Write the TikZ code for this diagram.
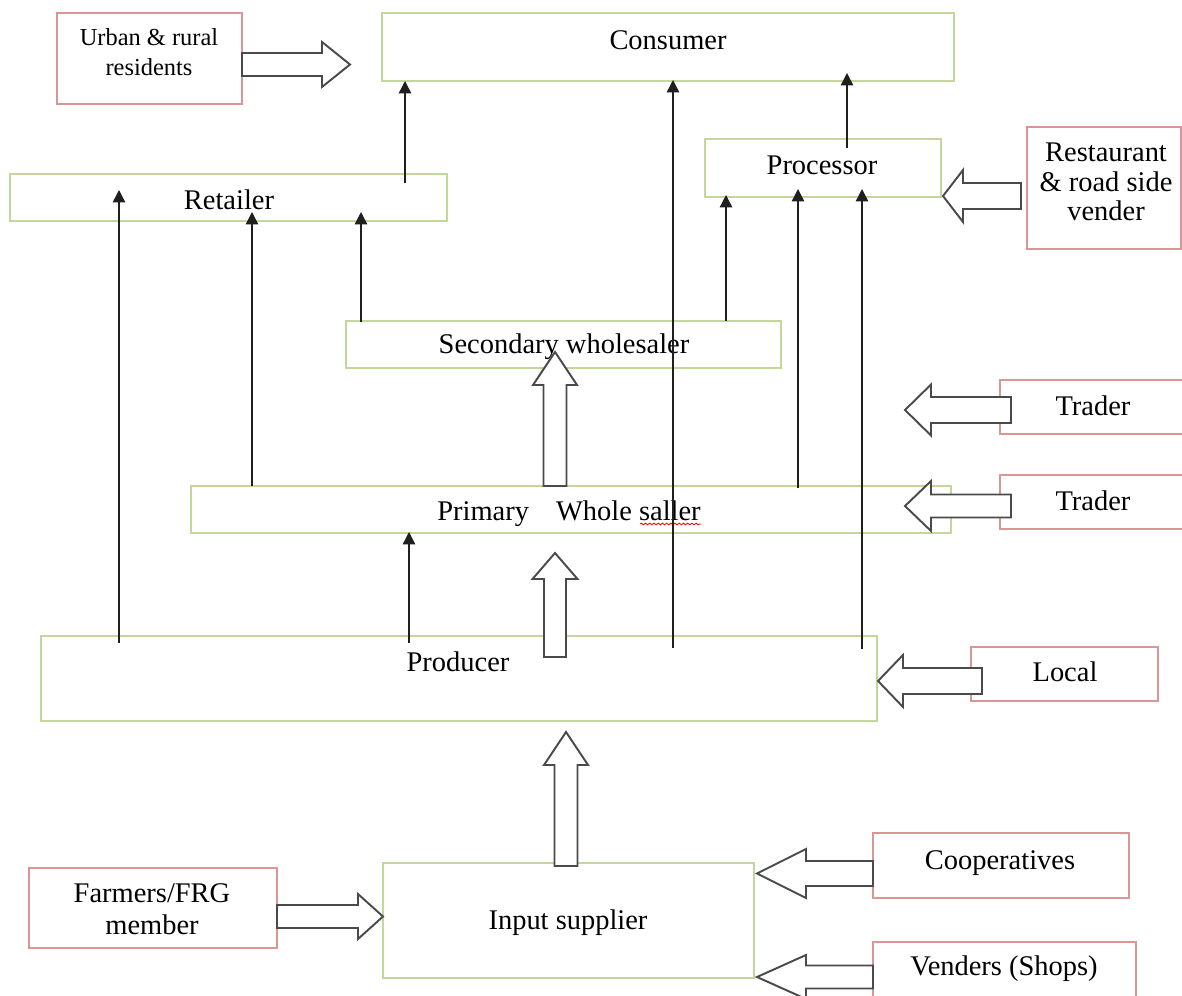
\documentclass[tikz,border=0pt]{standalone}
\usepackage{fontspec}
\setmainfont{Liberation Serif}
\usetikzlibrary{arrows.meta,fit,decorations.pathmorphing}
\definecolor{gline}{HTML}{C3D69B}
\definecolor{pline}{HTML}{D99694}
\definecolor{bline}{HTML}{4A4A4A}
% horizontal block arrow: tip x, head-base x, tail x, centre y, shaft half, head half
\newcommand\blkH[6]{\draw[blk] (#3,{#4-#5}) -- (#2,{#4-#5}) -- (#2,{#4-#6}) -- (#1,#4) -- (#2,{#4+#6}) -- (#2,{#4+#5}) -- (#3,{#4+#5}) -- cycle;}
% vertical block arrow: tip y, head-base y, tail y, centre x, shaft half, head half
\newcommand\blkV[6]{\draw[blk] ({#4-#5},#3) -- ({#4-#5},#2) -- ({#4-#6},#2) -- (#4,#1) -- ({#4+#6},#2) -- ({#4+#5},#2) -- ({#4+#5},#3) -- cycle;}
\begin{document}
\begin{tikzpicture}[x=0.02cm,y=-0.02cm,
  gbox/.style={draw=gline,line width=0.8pt,inner sep=0pt},
  pbox/.style={draw=pline,line width=0.8pt,inner sep=0pt},
  lbl/.style={font=\fontsize{16.2}{19}\selectfont,inner sep=0pt,align=center},
  arr/.style={line width=0.8pt,draw=black!88,-{Triangle[length=7pt,width=7pt]}},
  blk/.style={draw=bline,line width=1.1pt,fill=white,line join=miter}]
\useasboundingbox (0,0) rectangle (1182,996);
\fill[white] (0,0) rectangle (1182,996);
\clip (0,0) rectangle (1182,996);

% boxes
\node[gbox,fit={(382,13)(954,81)}] (cons) {};
\node[pbox,fit={(57,13)(242,104)}] (urban) {};
\node[gbox,fit={(10,174)(447,221)}] (ret) {};
\node[gbox,fit={(705,139)(941,197)}] (proc) {};
\node[pbox,fit={(1027,127)(1181,249)}] (rest) {};
\node[gbox,fit={(346,321)(781,368)}] (sec) {};
\node[pbox,fit={(1000,380)(1195,434)}] (trA) {};
\node[pbox,fit={(1000,475)(1195,529)}] (trB) {};
\node[gbox,fit={(191,486)(951,533)}] (prim) {};
\node[gbox,fit={(41,636)(877,721)}] (prod) {};
\node[pbox,fit={(971,647)(1158,701)}] (loc) {};
\node[gbox,fit={(383,863)(754,978)}] (inp) {};
\node[pbox,fit={(29,868)(277,948)}] (farm) {};
\node[pbox,fit={(873,833)(1129,898)}] (coop) {};
\node[pbox,fit={(873,942)(1136,1010)}] (vend) {};

% texts
\node[lbl] (consT) at (668,40) {Consumer};
\node[lbl,font=\fontsize{13.9}{17}\selectfont] (urbanT) at (149,52) {Urban \& rural\\residents};
\node[lbl] (retT) at (229,200) {Retailer};
\node[lbl] (procT) at (822,165) {Processor};
\node[lbl,font=\fontsize{16.2}{16.8}\selectfont] (restT) at (1106,182) {Restaurant\\\& road side\\vender};
\node[lbl] (secT) at (564,347) {Secondary wholesaler};
\node[lbl] (trAT) at (1093,406) {Trader};
\node[lbl] (trBT) at (1093,501) {Trader};
\node[lbl] (primT) at (569,514) {Primary\hspace{0.95em}Whole saller};
\node[lbl] (prodT) at (458,662) {Producer};
\node[lbl] (locT) at (1065,672) {Local};
\node[lbl] (inpT) at (568,923) {Input supplier};
\node[lbl,font=\fontsize{16.2}{18.4}\selectfont] (farmT) at (152,909) {Farmers/FRG\\member};
\node[lbl] (coopT) at (1000,863) {Cooperatives};
\node[lbl] (vendT) at (1004,969) {Venders (Shops)};
\draw[red,line width=0.45pt,decorate,decoration={snake,amplitude=0.5pt,segment length=2.4pt}] (640,524) -- (701,524);

% thin arrows
\coordinate (a1s) at (405,183); \coordinate (a1e) at (405,81);
\coordinate (a2s) at (119,643); \coordinate (a2e) at (119,190);
\coordinate (a3s) at (252,486); \coordinate (a3e) at (252,212);
\coordinate (a4s) at (361,322); \coordinate (a4e) at (361,212);
\coordinate (a5s) at (673,648); \coordinate (a5e) at (673,80);
\coordinate (a6s) at (847,148); \coordinate (a6e) at (847,73);
\coordinate (a7s) at (726,321); \coordinate (a7e) at (726,195);
\coordinate (a8s) at (798,488); \coordinate (a8e) at (798,189);
\coordinate (a9s) at (862,649); \coordinate (a9e) at (862,189);
\coordinate (a10s) at (409,643); \coordinate (a10e) at (409,532);
\foreach \i in {1,...,10} {\draw[arr] (a\i s) -- (a\i e);}

% block arrows
\blkH{350}{322}{242}{64.5}{11.5}{22.5}
\blkH{943}{963}{1021}{196}{13}{26}
\blkH{905}{931}{1011}{410}{13}{25.5}
\blkH{905}{931}{1011}{506}{11.5}{25}
\blkH{878}{903}{982}{681}{13}{26}
\blkH{383}{358}{277}{916.5}{11.5}{22.5}
\blkH{757}{806}{873}{873.5}{12.5}{24.5}
\blkH{757}{806}{873}{977}{11.5}{22}
\blkV{352}{385}{486}{555}{11.5}{22}
\blkV{553}{579}{657}{555}{11}{22.5}
\blkV{732}{765}{866}{566}{11.5}{22}
\end{tikzpicture}
\end{document}
